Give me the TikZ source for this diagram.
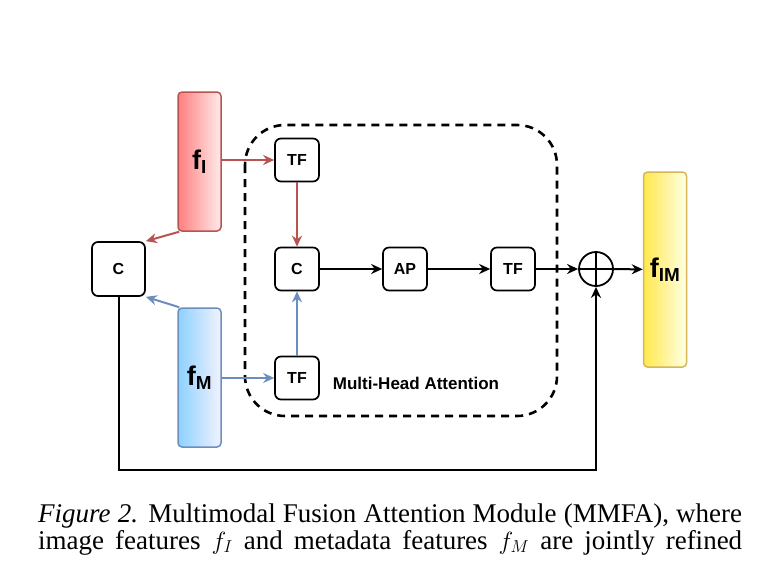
\documentclass[tikz,border=0pt]{standalone}
\usepackage{fontspec}
\setmainfont{Liberation Serif}
\setsansfont{Liberation Sans}
\usetikzlibrary{arrows.meta}
\definecolor{redb}{HTML}{B85450}
\definecolor{blueb}{HTML}{6C8EBF}
\definecolor{yelb}{HTML}{D6B656}
\tikzset{
 blk/.style={draw=black,line width=1.7pt,rounded corners=6pt,minimum width=44pt,minimum height=43pt,font=\sffamily\bfseries\fontsize{16}{16}\selectfont,inner sep=0pt},
 feat/.style={rounded corners=4pt,line width=1.5pt,minimum width=43pt,inner sep=0pt,font=\sffamily\bfseries\fontsize{27}{27}\selectfont},
 arr/.style={-{Stealth[length=11pt,width=10pt]},line width=2pt},
}
\begin{document}
\begin{tikzpicture}[x=1pt,y=-1pt]
\useasboundingbox (0,0) rectangle (778,570);
\draw[line width=2.6pt,dash pattern=on 8pt off 6pt,rounded corners=40pt] (245,125) rectangle (557,416);
\node[feat,draw=redb,left color=red!50!white,right color=red!8!white,minimum height=139pt] (fI) at (199.5,161.5) {f\textsubscript{I}};
\node[feat,draw=blueb,left color=blue!40!cyan!45!white,right color=blue!5!white,minimum height=139pt] (fM) at (199.5,377.5) {f\textsubscript{M}};
\node[feat,draw=yelb,left color=yellow!75!orange!70!white,right color=yellow!10!white,minimum height=195pt] (fIM) at (665,269.5) {f\textsubscript{IM}};
\node[blk,minimum width=53pt,minimum height=54pt] (C0) at (118.5,269) {C};
\node[blk] (T1) at (297,160) {TF};
\node[blk] (C1) at (297,269) {C};
\node[blk] (T2) at (297,378) {TF};
\node[blk] (AP) at (405,269) {AP};
\node[blk] (T3) at (513,269) {TF};
\node[draw,circle,line width=1.8pt,minimum size=34pt,inner sep=0pt] (op) at (596,269) {};
\draw[line width=1.8pt] (op.north)--(op.south) (op.west)--(op.east);
\node[font=\sffamily\bfseries\fontsize{17}{17}\selectfont] (mha) at (416,383) {Multi-Head Attention};
\draw[arr,redb] (fI.east |- T1) -- (T1);
\draw[arr,redb] (T1) -- (C1);
\draw[arr,redb] ([xshift=2pt]fI.south west) -- (C0.north east);
\draw[arr,blueb] ([xshift=2pt]fM.north west) -- (C0.south east);
\draw[arr,blueb] (fM.east |- T2) -- (T2);
\draw[arr,blueb] (T2) -- (C1);
\draw[arr] (C1) -- (AP);
\draw[arr] (AP) -- (T3);
\draw[arr] (T3) -- (op);
\draw[arr] (op) -- (fIM);
\coordinate (b1) at (118.5,470);
\coordinate (b2) at (596,470);
\draw[arr] (C0.south) -- (b1) -- (b2) -- (op.south);
\node[anchor=base west,inner sep=0pt,font=\fontsize{27}{27}\selectfont] (cap1) at (38,522) {\makebox[704pt][s]{\textit{Figure 2.} Multimodal Fusion Attention Module (MMFA), where}};
\node[anchor=base west,inner sep=0pt,font=\fontsize{27}{27}\selectfont] (cap2) at (38,549) {\makebox[704pt][s]{image features $f_I$ and metadata features $f_M$ are jointly refined}};
\end{tikzpicture}
\end{document}
